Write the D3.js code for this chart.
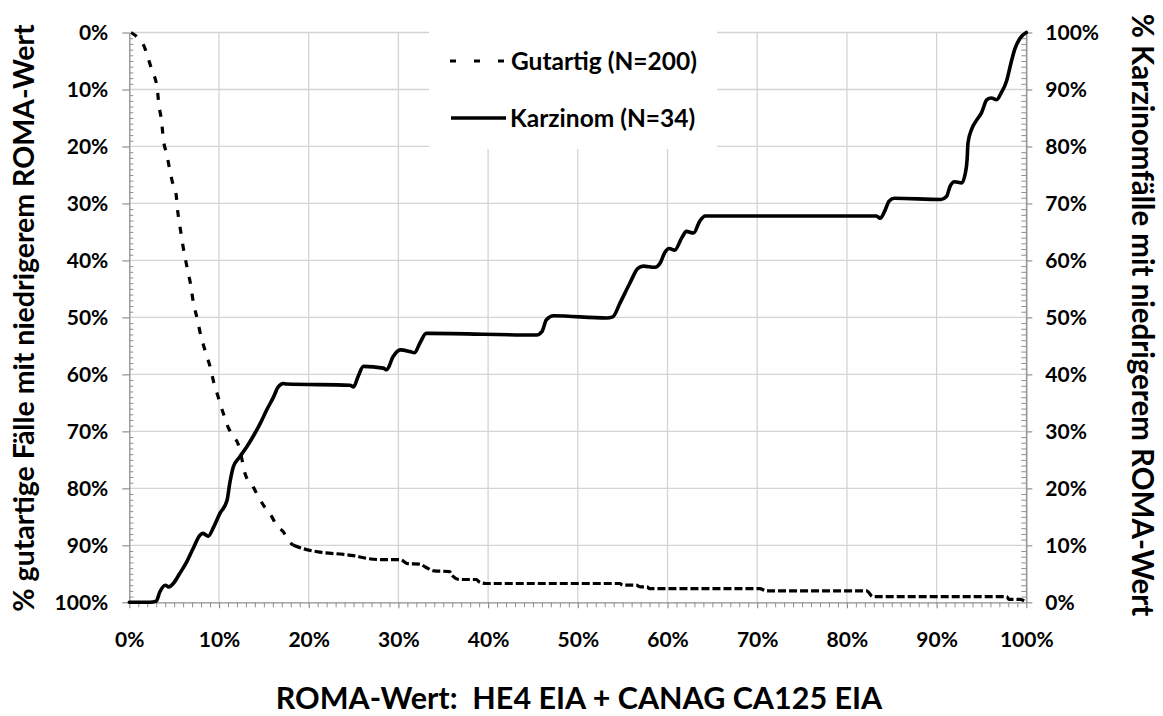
<!DOCTYPE html>
<html>
<head>
<meta charset="utf-8">
<script src="https://cdn.jsdelivr.net/npm/d3@7"></script>
<style>
  html, body { margin: 0; padding: 0; background: #fff; }
  svg { display: block; }
  text { font-family: Lato, "Open Sans", sans-serif; font-weight: bold; fill: #000; white-space: pre; }
</style>
</head>
<body>
<svg id="chart" width="1163" height="716"></svg>
<script>
// ---- data ----
const xTicks = [0, 10, 20, 30, 40, 50, 60, 70, 80, 90, 100];
const leftTicks = [0, 10, 20, 30, 40, 50, 60, 70, 80, 90, 100];
const rightTicks = [0, 10, 20, 30, 40, 50, 60, 70, 80, 90, 100];
const seriesNames = ["Gutartig (N=200)", "Karzinom (N=34)"];
const xTitle = "ROMA-Wert:  HE4 EIA + CANAG CA125 EIA";
const leftTitle = "% gutartige Fälle mit niedrigerem ROMA-Wert";
const rightTitle = "% Karzinomfälle mit niedrigerem ROMA-Wert";

// Gutartig: x = ROMA-Wert %, y = % (left axis, inverted)
const benignX = [0.2,1.0,1.7,2.1,2.5,3.1,3.3,3.6,3.8,4.2,4.4,4.8,5.2,5.4,5.7,6.0,6.5,6.9,7.1,7.6,8.0,8.2,8.6,9.0,9.4,9.9,10.1,10.6,11.0,11.6,12.1,12.5,12.9,13.8,14.4,15.1,15.9,16.4,17.2,17.7,18.3,19.4,21.3,23.9,25.0,26.5,28.0,30.2,31.0,32.4,33.0,34.0,35.7,36.0,36.8,38.7,39.0,39.8,54.7,55.0,56.5,57.0,57.7,58.0,70.3,71.0,82.2,82.9,97.8,98.1,99.3,100];
const benignY = [0,1.0,2.6,4.5,6.5,9.7,12.7,15.6,18.8,21.5,23.2,26.2,28.2,31.4,34.6,37.6,41.7,44.8,47.0,50.4,53.4,54.5,56.6,58.6,61.3,63.9,65.0,67.4,69.2,70.9,72.1,74.5,77.4,79.7,81.5,83.3,85.0,86.5,87.7,89.1,90.0,90.6,91.2,91.6,91.8,92.3,92.5,92.5,93.2,93.3,93.8,94.5,94.6,95.3,96.0,96.0,96.4,96.7,96.7,97.0,97.0,97.3,97.3,97.6,97.6,98.0,98.0,99.0,99.0,99.5,99.5,100];

// Karzinom: x = ROMA-Wert %, y = % (right axis)
const cancerX = [0,2.3,3.0,3.4,4.0,4.4,4.9,5.6,6.4,7.1,7.9,8.2,8.8,9.4,10.1,10.9,11.2,11.6,12.3,13.1,13.8,14.6,15.3,16.1,16.6,17.2,17.5,24.6,25.0,25.5,26.1,28.3,28.7,29.4,30.2,31.3,31.8,32.4,33.1,33.5,45.4,46.0,46.5,47.3,53.2,53.9,54.7,55.8,56.7,57.3,58.6,59.2,59.7,60.2,60.8,61.6,62.1,62.9,63.6,64.2,83.3,83.7,84.2,84.7,85.3,90.5,91.1,91.5,92.0,92.8,93.2,93.4,93.5,93.9,94.5,95.0,95.6,96.1,96.7,97.2,97.8,98.3,98.7,99.3,100];
const cancerY = [0,0,0.2,1.8,3.0,2.7,3.3,5.0,7.1,9.4,11.8,12.1,11.6,13.2,15.6,17.9,20.9,23.8,25.5,27.3,29.1,31.4,33.7,36.1,37.8,38.4,38.3,38.1,37.8,39.6,41.4,41.1,40.8,43.1,44.3,44.0,43.8,45.5,47.2,47.2,46.9,47.5,49.6,50.3,49.9,50.1,52.5,56.0,58.6,59.0,58.8,59.6,61.4,62.1,61.8,64.0,65.1,64.8,66.9,67.8,67.8,67.4,68.6,70.4,70.9,70.7,71.2,73.0,73.8,73.6,75.3,77.7,80.6,83.0,84.7,85.9,88.2,88.5,88.2,89.4,91.5,94.7,97.0,99.0,100];

// ---- layout ----
const svg = d3.select("#chart");
const L = 129.3, R = 1026.3, T = 32.5, B = 602.3;
const x = d3.scaleLinear().domain([0, 100]).range([L, R]);
const yL = d3.scaleLinear().domain([0, 100]).range([T, B]);   // inverted left axis
const yR = d3.scaleLinear().domain([0, 100]).range([B, T]);
const grid = "#d4d4d4", axisCol = "#8f8f8f";

// gridlines
const g = svg.append("g");
g.selectAll("line.v").data(xTicks.slice(1)).join("line")
  .attr("x1", d => x(d)).attr("x2", d => x(d)).attr("y1", T).attr("y2", B)
  .attr("stroke", grid).attr("stroke-width", 1.3);
g.selectAll("line.h").data(leftTicks.slice(0, -1)).join("line")
  .attr("x1", L).attr("x2", R).attr("y1", d => yL(d)).attr("y2", d => yL(d))
  .attr("stroke", grid).attr("stroke-width", 1.3);

const fmt = d => d + "%";
const minor = d3.range(0, 101, 1).filter(d => d % 10 !== 0);

function styleAxis(sel) {
  sel.select(".domain").attr("stroke", axisCol).attr("stroke-width", 1.3);
  sel.selectAll(".tick line").attr("stroke", axisCol).attr("stroke-width", 1.2);
  sel.selectAll(".tick text").style("font-size", "21px").attr("fill", "#000");
}

// minor ticks
svg.append("g").attr("transform", `translate(${L},0)`)
  .call(d3.axisRight(yL).tickValues(minor).tickSize(4).tickFormat("").tickSizeOuter(0))
  .call(s => { s.select(".domain").remove(); s.selectAll("line").attr("stroke", axisCol); });
svg.append("g").attr("transform", `translate(${R},0)`)
  .call(d3.axisLeft(yR).tickValues(minor).tickSize(5).tickFormat("").tickSizeOuter(0))
  .call(s => { s.select(".domain").remove(); s.selectAll("line").attr("stroke", axisCol); });
svg.append("g").attr("transform", `translate(0,${B})`)
  .call(d3.axisBottom(x).tickValues(minor).tickSize(5).tickFormat("").tickSizeOuter(0))
  .call(s => { s.select(".domain").remove(); s.selectAll("line").attr("stroke", axisCol); });

// major axes
svg.append("g").attr("transform", `translate(${L},0)`)
  .call(d3.axisLeft(yL).tickValues(leftTicks).tickFormat(fmt).tickSize(7).tickPadding(14).tickSizeOuter(0))
  .call(styleAxis);
svg.append("g").attr("transform", `translate(${R},0)`)
  .call(d3.axisRight(yR).tickValues(rightTicks).tickFormat(fmt).tickSize(6).tickPadding(13).tickSizeOuter(0))
  .call(styleAxis);
svg.append("g").attr("transform", `translate(0,${B})`)
  .call(d3.axisBottom(x).tickValues(xTicks).tickFormat(fmt).tickSize(6).tickPadding(24).tickSizeOuter(0))
  .call(styleAxis);

// legend box (covers gridlines)
const lg = svg.append("g");
lg.append("rect").attr("x", 429).attr("y", 30).attr("width", 288).attr("height", 119).attr("fill", "#fff");

// series
const benign = benignX.map((v, i) => [v, benignY[i]]);
const cancer = cancerX.map((v, i) => [v, cancerY[i]]);
const lineB = d3.line().x(d => x(d[0])).y(d => yL(d[1])).curve(d3.curveMonotoneX);
const lineC = d3.line().x(d => x(d[0])).y(d => yR(d[1])).curve(d3.curveMonotoneX);

const splitIdx = benignX.findIndex(v => v >= 18.3);
svg.append("path").datum(benign.slice(0, splitIdx + 1))
  .attr("d", lineB).attr("fill", "none").attr("stroke", "#000")
  .attr("stroke-width", 3.2).attr("stroke-dasharray", "7,10");
svg.append("path").datum(benign.slice(splitIdx))
  .attr("d", lineB).attr("fill", "none").attr("stroke", "#000")
  .attr("stroke-width", 3.2).attr("stroke-dasharray", "8,3");
svg.append("path").datum(cancer)
  .attr("d", lineC).attr("fill", "none").attr("stroke", "#000")
  .attr("stroke-width", 3.6).attr("stroke-linejoin", "round").attr("stroke-linecap", "round");

// legend entries
lg.append("line").attr("x1", 450).attr("x2", 506).attr("y1", 61).attr("y2", 61)
  .attr("stroke", "#000").attr("stroke-width", 3.2).attr("stroke-dasharray", "6,18");
lg.append("line").attr("x1", 451).attr("x2", 506).attr("y1", 118).attr("y2", 118)
  .attr("stroke", "#000").attr("stroke-width", 3.6);
lg.append("text").attr("x", 511).attr("y", 70).style("font-size", "24.5px").text(seriesNames[0]);
lg.append("text").attr("x", 510).attr("y", 127).style("font-size", "24.5px").text(seriesNames[1]);

// titles
svg.append("text").attr("x", (275 + 883) / 2).attr("y", 709).attr("text-anchor", "middle")
  .style("font-size", "30.5px").text(xTitle);
svg.append("text").attr("transform", `translate(34,318) rotate(-90)`).attr("text-anchor", "middle")
  .style("font-size", "28.5px").text(leftTitle);
svg.append("text").attr("transform", `translate(1132,315) rotate(90)`).attr("text-anchor", "middle")
  .style("font-size", "29.5px").text(rightTitle);
</script>
</body>
</html>
